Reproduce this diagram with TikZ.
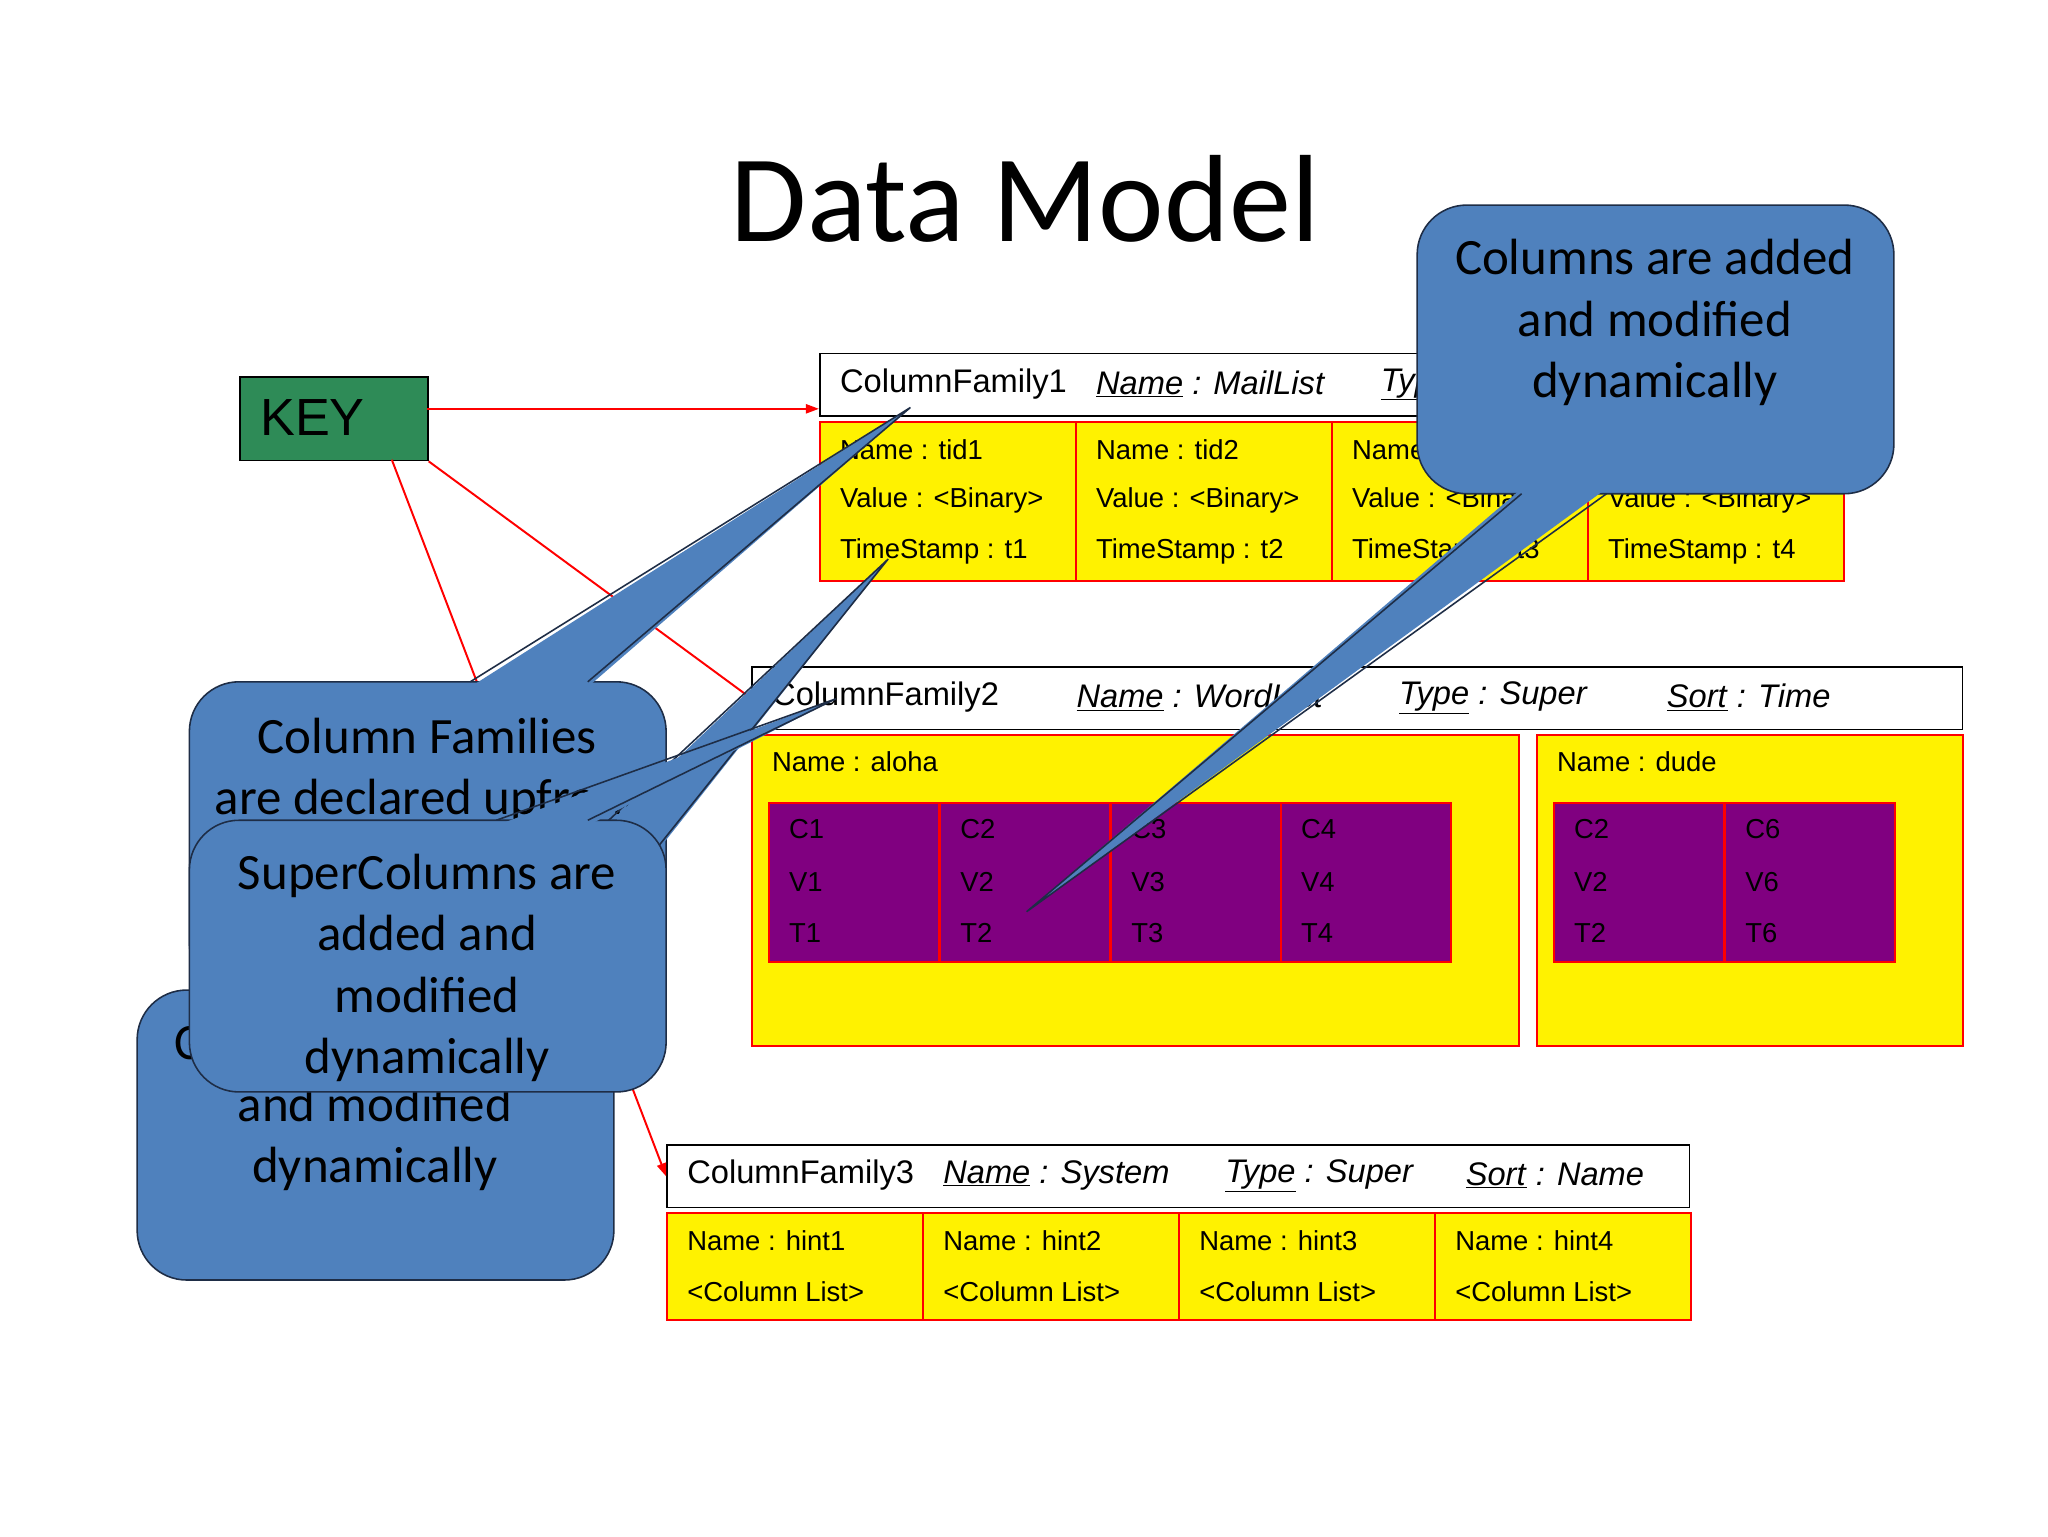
\documentclass[tikz,border=0pt]{standalone}
\usepackage{fontspec}
\setmainfont{Liberation Sans}
\newfontfamily\calfont{Carlito}
\usetikzlibrary{arrows.meta}
\definecolor{cblue}{RGB}{79,129,189}
\definecolor{cedge}{RGB}{30,45,70}
\definecolor{kgreen}{RGB}{46,139,87}
\definecolor{purp}{RGB}{128,0,128}
\begin{document}
\begin{tikzpicture}[x=1pt,y=-1pt,
  hdr/.style={draw=black,line width=1.2pt,fill=white,anchor=north west,inner sep=0},
  cell/.style={draw=red,line width=1.5pt,fill=yellow,anchor=north west,inner sep=0},
  pcell/.style={draw=red,line width=1.5pt,fill=purp,anchor=north west,inner sep=0},
  txt/.style={anchor=west,inner sep=0,font=\fontsize{21}{24}\selectfont},
  htxt/.style={anchor=west,inner sep=0,font=\fontsize{25}{28}\selectfont},
  redline/.style={draw=red,line width=1.5pt},
  cbox/.style={fill=cblue,draw=cedge,line width=1.2pt,rounded corners=38pt},
  ctxt/.style={align=center,font=\calfont\fontsize{39}{47}\selectfont,inner sep=0},
  wedge/.style={fill=cblue},
  wedgeline/.style={draw=cedge,line width=1.2pt}]
\useasboundingbox (0,0) rectangle (1568,1176);
\fill[white] (0,0) rectangle (1568,1176);
\node[font=\calfont\fontsize{95}{105}\selectfont] (title) at (785,152) {Data Model};
% KEY
\node[draw=black,line width=1.2pt,fill=kgreen,anchor=north west,minimum width=144pt,minimum height=64pt,inner sep=0] (key) at (183,288) {};
\node[anchor=west,font=\fontsize{40}{44}\selectfont,inner sep=0] at (199,320) {KEY};
% CF1
\node[hdr,minimum width=784pt,minimum height=48pt] (cf1h) at (627,270) {};
\node[htxt] at (643,294) {ColumnFamily1};
\node[htxt] at (839,294) {\underline{\textit{Name}}\textit{ : MailList}};
\node[htxt] at (1057,294) {\underline{\textit{Type}}\textit{ : Standard}};
\foreach \i/\x in {1/627,2/823,3/1019,4/1215}{
  \node[cell,minimum width=196pt,minimum height=122pt] (c1\i) at (\x,322) {};
  \node[txt] at (\x+16,344) {Name : tid\i};
  \node[txt] at (\x+16,383) {Value : <Binary>};
  \node[txt] at (\x+16,422) {TimeStamp : t\i};
}
% CF2
\node[hdr,minimum width=927pt,minimum height=48pt] (cf2h) at (575,510) {};
\node[htxt] at (591,534) {ColumnFamily2};
\node[htxt] at (824,534) {\underline{\textit{Name}}\textit{ : WordList}};
\node[htxt] at (1071,534) {\underline{\textit{Type}}\textit{ : Super}};
\node[htxt] at (1276,534) {\underline{\textit{Sort}}\textit{ : Time}};
\node[cell,minimum width=587pt,minimum height=238pt] (aloha) at (575,562) {};
\node[txt] at (591,583) {Name : aloha};
\foreach \i/\x in {1/588,2/719,3/850,4/980}{
  \node[pcell,minimum width=130pt,minimum height=122pt] (p\i) at (\x,614) {};
  \node[txt] at (\x+16,635) {C\i};
  \node[txt] at (\x+16,675) {V\i};
  \node[txt] at (\x+16,714) {T\i};
}
\node[cell,minimum width=326pt,minimum height=238pt] (dude) at (1176,562) {};
\node[txt] at (1192,583) {Name : dude};
\foreach \i/\x in {2/1189,6/1320}{
  \node[pcell,minimum width=130pt,minimum height=122pt] (q\i) at (\x,614) {};
  \node[txt] at (\x+16,635) {C\i};
  \node[txt] at (\x+16,675) {V\i};
  \node[txt] at (\x+16,714) {T\i};
}
% CF3
\node[hdr,minimum width=783pt,minimum height=48pt] (cf3h) at (510,876) {};
\node[htxt] at (526,900) {ColumnFamily3};
\node[htxt] at (722,900) {\underline{\textit{Name}}\textit{ : System}};
\node[htxt] at (938,900) {\underline{\textit{Type}}\textit{ : Super}};
\node[htxt] at (1122,900) {\underline{\textit{Sort}}\textit{ : Name}};
\foreach \i/\x in {1/510,2/706,3/902,4/1098}{
  \node[cell,minimum width=196pt,minimum height=82pt] (c3\i) at (\x,928) {};
  \node[txt] at (\x+16,950) {Name : hint\i};
  \node[txt] at (\x+16,989) {<Column List>};
}
% KEY connectors
\coordinate (k1) at (300,352);
\coordinate (k0) at (327,313);
\draw[redline,-{Triangle[length=10pt,width=7pt]}] (k0) -- (cf1h.west |- k0);
\draw[redline,-{Triangle[length=10pt,width=7pt]}] (k1) -- (cf3h.west);
\draw[redline] (key.south east) -- (cf2h.west);
% Callout: Column Families
\draw[cbox] (145,522) rectangle (510,760);
\node[ctxt] at (327,590) {Column Families\\are declared upfront};
\fill[wedge] (360,526) -- (697,312) -- (450,526) -- cycle;
\draw[wedgeline] (360,522) -- (697,312) -- (450,522);
% Callout: Columns (bottom left)
\draw[cbox] (105,758) rectangle (470,980);
\node[ctxt] at (287,848) {Columns are added\\and modified\\dynamically};
\fill[wedge] (327,762) -- (680,428) -- (416,762) -- cycle;
\draw[wedgeline] (327,758) -- (680,428) -- (416,758);
% Callout: SuperColumns
\draw[cbox] (145,628) rectangle (510,836);
\node[ctxt] at (327,741) {SuperColumns are\\added and\\modified\\dynamically};
\fill[wedge] (380,632) -- (640,535) -- (450,632) -- cycle;
\draw[wedgeline] (380,628) -- (640,535) -- (450,628);
% Callout: Columns (top right)
\draw[cbox] (1085,157) rectangle (1450,378);
\node[ctxt] at (1267,247) {Columns are added\\and modified\\dynamically};
\fill[wedge] (1165,374) -- (786,698) -- (1230,374) -- cycle;
\draw[wedgeline] (1165,378) -- (786,698) -- (1230,378);
\end{tikzpicture}
\end{document}
